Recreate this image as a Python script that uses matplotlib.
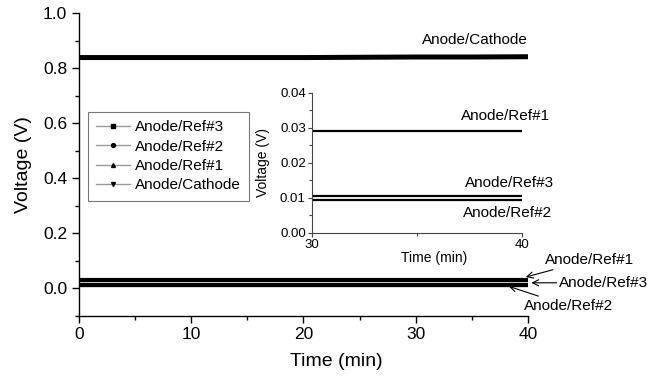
import matplotlib
matplotlib.use("Agg")
import matplotlib.pyplot as plt
from matplotlib.lines import Line2D
from matplotlib.ticker import MultipleLocator

plt.rcParams['font.family'] = ['Liberation Sans', 'DejaVu Sans']

# data (time in min, voltage in V)
time = [0, 5, 10, 15, 20, 25, 30, 35, 40]
anode_cathode = [0.838, 0.838, 0.838, 0.838, 0.838, 0.839, 0.840, 0.840, 0.841]
anode_ref1 = [0.029, 0.029, 0.029, 0.029, 0.029, 0.029, 0.029, 0.029, 0.029]
anode_ref3 = [0.0107, 0.0107, 0.0107, 0.0107, 0.0107, 0.0107, 0.0107, 0.0107, 0.0107]
anode_ref2 = [0.0093, 0.0093, 0.0093, 0.0093, 0.0093, 0.0093, 0.0093, 0.0093, 0.0093]

legend_labels = ["Anode/Ref#3", "Anode/Ref#2", "Anode/Ref#1", "Anode/Cathode"]
legend_markers = ["s", "o", "^", "v"]

fig = plt.figure(figsize=(6.69, 3.78), dpi=100)
ax = fig.add_axes([0.1181, 0.1653, 0.6711, 0.8003])

ax.plot(time, anode_cathode, color="black", lw=3.6, solid_capstyle="butt")
ax.plot(time, anode_ref1, color="black", lw=3.0, solid_capstyle="butt")
ax.plot(time, anode_ref3, color="black", lw=3.0, solid_capstyle="butt")
ax.plot(time, anode_ref2, color="black", lw=3.0, solid_capstyle="butt")

ax.set_xlim(0, 40)
ax.set_ylim(-0.1, 1.0)
ax.xaxis.set_major_locator(MultipleLocator(10))
ax.xaxis.set_minor_locator(MultipleLocator(5))
ax.yaxis.set_major_locator(MultipleLocator(0.2))
ax.yaxis.set_minor_locator(MultipleLocator(0.1))
ax.set_yticks([0.0, 0.2, 0.4, 0.6, 0.8, 1.0])
ax.set_yticklabels(["0.0", "0.2", "0.4", "0.6", "0.8", "1.0"])
for s in ["top", "right"]:
    ax.spines[s].set_visible(False)
for s in ["left", "bottom"]:
    ax.spines[s].set_linewidth(1.0)
ax.tick_params(which="major", direction="out", length=5, width=1, labelsize=12.5)
ax.tick_params(which="minor", direction="out", length=3, width=1)
ax.set_xlabel("Time (min)", fontsize=14)
ax.set_ylabel("Voltage (V)", fontsize=14)
ax.xaxis.set_label_coords(0.572, -0.125)
ax.yaxis.set_label_coords(-0.105, 0.5)

ax.text(35.3, 0.902, "Anode/Cathode", fontsize=11, ha="center", va="center")
arrow = dict(arrowstyle="->", color="black", lw=0.8, shrinkA=0, shrinkB=0)
ax.annotate("Anode/Ref#1", xy=(39.8, 0.04), xytext=(41.5, 0.102),
            fontsize=11, va="center", ha="left", arrowprops=arrow,
            annotation_clip=False)
ax.annotate("Anode/Ref#3", xy=(40.3, 0.019), xytext=(42.8, 0.019),
            fontsize=11, va="center", ha="left", arrowprops=arrow,
            annotation_clip=False)
ax.annotate("Anode/Ref#2", xy=(38.3, 0.006), xytext=(39.6, -0.065),
            fontsize=11, va="center", ha="left", arrowprops=arrow,
            annotation_clip=False)

handles = [Line2D([], [], color="#999999", lw=1, marker=m, markersize=2.8,
                  markerfacecolor="black", markeredgecolor="black")
           for m in legend_markers]
leg = ax.legend(handles, legend_labels, loc="upper left",
                bbox_to_anchor=(88 / 669, 1 - 112 / 378),
                bbox_transform=fig.transFigure, fontsize=11,
                frameon=True, fancybox=False, borderaxespad=0,
                handlelength=2.2, handletextpad=0.3, labelspacing=0.35,
                borderpad=0.55)
leg.get_frame().set_edgecolor("#555555")
leg.get_frame().set_linewidth(0.8)

# inset
ins = fig.add_axes([0.4664, 0.3836, 0.3139, 0.3704])
ins.plot(time, anode_ref1, color="black", lw=1.6)
ins.plot(time, anode_ref3, color="black", lw=1.6)
ins.plot(time, anode_ref2, color="black", lw=1.6)
ins.set_xlim(30, 40)
ins.set_ylim(0, 0.04)
ins.set_xticks([30, 40])
ins.xaxis.set_minor_locator(MultipleLocator(5))
ins.set_yticks([0.0, 0.01, 0.02, 0.03, 0.04])
ins.set_yticklabels(["0.00", "0.01", "0.02", "0.03", "0.04"])
ins.yaxis.set_minor_locator(MultipleLocator(0.005))
for s in ["top", "right"]:
    ins.spines[s].set_visible(False)
for s in ["left", "bottom"]:
    ins.spines[s].set_linewidth(0.8)
    ins.spines[s].set_color("#444444")
ins.tick_params(which="major", direction="out", length=3, width=0.8,
                labelsize=9.5, pad=1.5, color="#444444")
ins.tick_params(which="minor", direction="out", length=2, width=0.8,
                color="#444444")
ins.set_xlabel("Time (min)", fontsize=10)
ins.set_ylabel("Voltage (V)", fontsize=10)
ins.xaxis.set_label_coords(0.58, -0.13)
ins.yaxis.set_label_coords(-0.2, 0.5)

ins.text(39.2, 0.0334, "Anode/Ref#1", fontsize=11, ha="center", va="center")
ins.text(39.4, 0.0143, "Anode/Ref#3", fontsize=11, ha="center", va="center")
ins.text(39.3, 0.0057, "Anode/Ref#2", fontsize=11, ha="center", va="center")

fig.savefig("out.png", dpi=100)
